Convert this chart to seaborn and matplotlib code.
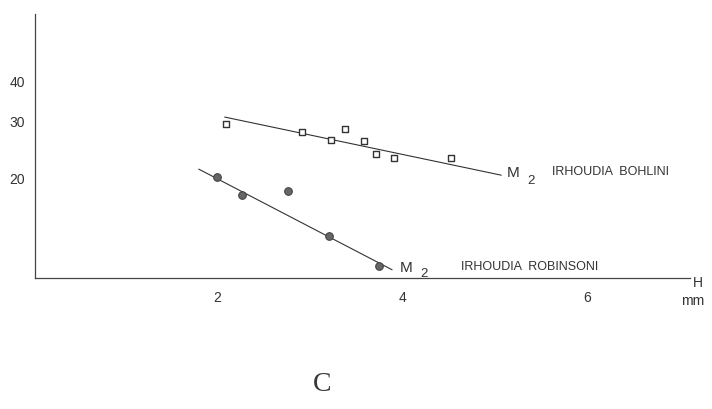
import seaborn as sns
import matplotlib.pyplot as plt
import pandas as pd

# M2 length (H, mm) vs index, log scale on y
bohlini_h = [2.09, 2.92, 3.23, 3.38, 3.59, 3.72, 3.91, 4.53]
bohlini_v = [29.4, 27.7, 26.2, 28.3, 26.0, 23.7, 23.0, 22.9]
robinsoni_h = [2.00, 2.27, 2.76, 3.21, 3.75]
robinsoni_v = [20.0, 17.6, 18.1, 13.1, 10.6]

# trend lines as drawn
bohlini_line_h = [2.08, 5.07]
bohlini_line_v = [30.8, 20.3]
robinsoni_line_h = [1.80, 3.89]
robinsoni_line_v = [21.2, 10.3]

x_ticks = [2, 4, 6]
y_ticks = [20, 30, 40]

ink = "#333333"

sns.set_theme(style="white")
plt.rcParams["font.family"] = ["Liberation Sans", "DejaVu Sans"]

fig = plt.figure(figsize=(7.12, 4.10), dpi=100)
ax = fig.add_axes([35 / 712, 131 / 410, 655 / 712, 264 / 410])

bohlini = pd.DataFrame({"H": bohlini_h, "V": bohlini_v})
robinsoni = pd.DataFrame({"H": robinsoni_h, "V": robinsoni_v})

sns.lineplot(x=bohlini_line_h, y=bohlini_line_v, ax=ax, color=ink, lw=0.8)
sns.lineplot(x=robinsoni_line_h, y=robinsoni_line_v, ax=ax, color=ink, lw=0.8)
sns.scatterplot(data=bohlini, x="H", y="V", ax=ax, marker="s", s=20,
                facecolor="white", edgecolor=ink, linewidth=1.0, zorder=3)
sns.scatterplot(data=robinsoni, x="H", y="V", ax=ax, marker="o", s=30,
                color="#666666", edgecolor="#444444", linewidth=0.8, zorder=3)

ax.set_yscale("log")
ax.set_xlim(0.03, 7.11)
ax.set_ylim(9.71, 64.5)
ax.set_xticks(x_ticks)
ax.set_xticklabels([str(t) for t in x_ticks])
ax.set_yticks(y_ticks)
ax.set_yticklabels([str(t) for t in y_ticks])
ax.minorticks_off()
ax.set_xlabel("")
ax.set_ylabel("")

sns.despine(ax=ax)
for side in ["left", "bottom"]:
    ax.spines[side].set_color("#444444")
    ax.spines[side].set_linewidth(0.9)
ax.tick_params(axis="x", direction="out", length=4, width=0.9, colors=ink,
               labelsize=10, pad=5)
ax.tick_params(axis="y", direction="in", length=4, width=0.9, colors=ink,
               labelsize=10, pad=7)

lab = dict(color=ink, va="center", clip_on=False)
ax.text(5.20, 20.8, "M", fontsize=11, ha="center", **lab)
ax.text(5.39, 19.6, "2", fontsize=9.5, ha="center", **lab)
ax.text(5.62, 20.9, "IRHOUDIA  BOHLINI", fontsize=9, ha="left", **lab)
ax.text(4.04, 10.5, "M", fontsize=11, ha="center", **lab)
ax.text(4.24, 10.1, "2", fontsize=9.5, ha="center", **lab)
ax.text(4.63, 10.55, "IRHOUDIA  ROBINSONI", fontsize=9, ha="left", **lab)

ax.text(7.19, 9.44, "H", fontsize=10, ha="center", **lab)
ax.text(7.14, 8.3, "mm", fontsize=10, ha="center", **lab)

fig.text(0.452, 0.063, "C", fontsize=20, color="#3a3a3a", ha="center",
         va="center", family=["Liberation Serif", "DejaVu Serif"])

plt.savefig("out.png", dpi=100)
